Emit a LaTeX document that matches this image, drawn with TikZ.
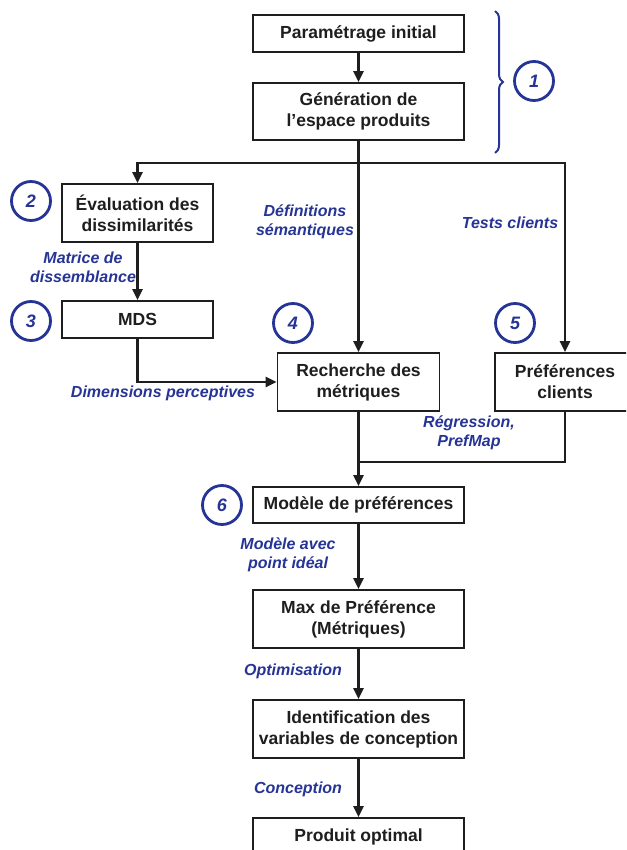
\documentclass[tikz,border=0pt]{standalone}
\usepackage{fontspec}
\setmainfont{Liberation Sans}
\usetikzlibrary{arrows.meta,decorations.pathreplacing}
\definecolor{ink}{RGB}{30,30,30}
\definecolor{navy}{RGB}{38,52,150}
\tikzset{
  box/.style={draw=ink, line width=1.7pt, fill=white, inner sep=0pt, align=center,
    text=ink, font=\fontsize{17.5}{21}\selectfont\bfseries},
  lbl/.style={text=navy, align=center, inner sep=0pt,
    font=\fontsize{16}{19}\selectfont\bfseries\itshape},
  num/.style={circle, draw=navy, line width=2.8pt, minimum size=39pt, inner sep=0pt,
    text=navy, font=\fontsize{18}{20}\selectfont\bfseries\itshape},
  conn/.style={draw=ink, line width=2.3pt},
  arr/.style={conn, -{Triangle[length=11pt,width=10pt]}},
}
\begin{document}
\begin{tikzpicture}[x=1pt,y=-1pt]
\clip (0,0) rectangle (626,850);
\fill[white] (0,0) rectangle (626,850);
% boxes
\node[box, minimum width=211pt, minimum height=37pt] (param) at (358.5,33.5) {Paramétrage initial};
\node[box, minimum width=211pt, minimum height=57pt] (gen) at (358.5,111.5) {Génération de\\l’espace produits};
\node[box, minimum width=151pt, minimum height=58pt] (eval) at (137.5,213) {Évaluation des\\dissimilarités};
\node[box, minimum width=151pt, minimum height=37pt] (mds) at (137.5,319.5) {MDS};
\node[box, minimum width=162pt, minimum height=58pt] (rech) at (358.5,382) {Recherche des\\métriques};
\node[box, minimum width=140pt, minimum height=58pt] (pref) at (565,382) {Préférences\\clients};
\node[box, minimum width=211pt, minimum height=36pt] (modele) at (358.5,505) {Modèle de préférences};
\node[box, minimum width=211pt, minimum height=58pt] (max) at (358.5,619) {Max de Préférence\\(Métriques)};
\node[box, minimum width=211pt, minimum height=58pt] (ident) at (358.5,729) {Identification des\\variables de conception};
\node[box, minimum width=211pt, minimum height=38pt] (prod) at (358.5,837) {Produit optimal};
% numbered circles
\node[num] (n1) at (534,81) {1};
\node[num] (n2) at (31,201) {2};
\node[num] (n3) at (31,321) {3};
\node[num] (n4) at (293,323) {4};
\node[num] (n5) at (515,323) {5};
\node[num] (n6) at (222,505) {6};
% brace
\coordinate (btop) at (495,11);
\coordinate (bbot) at (495,153);
\draw[navy, line width=2pt, decorate, decoration={brace, amplitude=8pt}] (btop) -- (bbot);
% junctions
\coordinate (j1) at (358.5,163);
\coordinate (j2) at (358.5,462);
% connectors
\draw[arr] (param) -- (gen);
\draw[conn] (gen) -- (j1);
\draw[arr] (j1) -| (eval.north);
\draw[arr] (j1) -| (pref.north);
\draw[arr] (j1) -- (rech.north);
\draw[arr] (eval) -- (mds);
\draw[arr] (mds.south) |- (rech.west);
\draw[conn] (rech.south) -- (j2);
\draw[conn] (pref.south) |- (j2);
\draw[arr] (j2) -- (modele.north);
\draw[arr] (modele) -- (max);
\draw[arr] (max) -- (ident);
\draw[arr] (ident) -- (prod);
% labels
\node[lbl] (l1) at (83,267) {Matrice de\\dissemblance};
\node[lbl] (l2) at (305,222) {Définitions\\sémantiques};
\node[lbl] (l3) at (510,223) {Tests clients};
\node[lbl] (l4) at (163,393) {Dimensions perceptives};
\node[lbl] (l5) at (469,433) {Régression,\\PrefMap};
\node[lbl] (l6) at (288,555) {Modèle avec\\point idéal};
\node[lbl] (l7) at (293,671) {Optimisation};
\node[lbl] (l8) at (298,789) {Conception};
\end{tikzpicture}
\end{document}
